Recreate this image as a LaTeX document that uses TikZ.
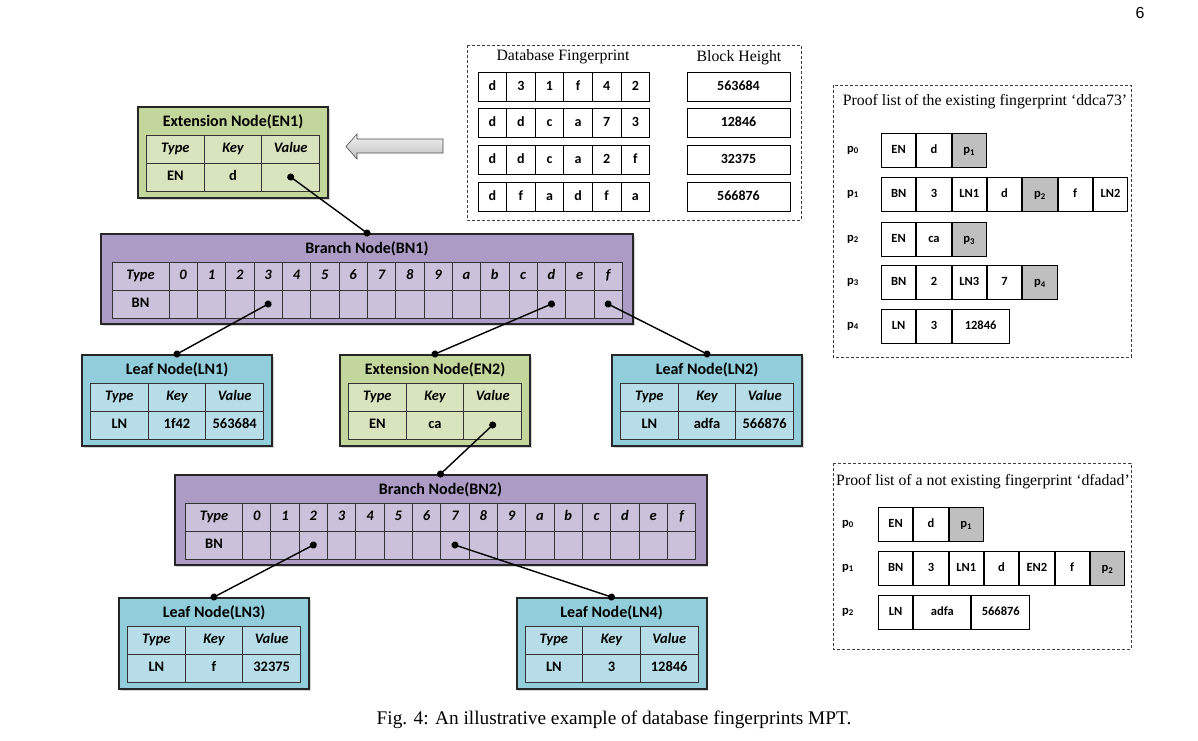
\documentclass[tikz,border=0pt]{standalone}
\usepackage{fontspec}
\setmainfont{Liberation Serif}
\newfontfamily\calibri{Carlito}
\newfontfamily\pagefont{Liberation Sans}
\usetikzlibrary{arrows.meta,shadows}

\definecolor{enout}{HTML}{C3D69B}
\definecolor{enin}{HTML}{D7E4BD}
\definecolor{lnout}{HTML}{92CDDC}
\definecolor{lnin}{HTML}{B7DEE8}
\definecolor{bnout}{HTML}{AC9BC4}
\definecolor{bnin}{HTML}{CCC1DA}
\definecolor{pgray}{HTML}{BFBFBF}

\tikzset{
  outerbox/.style={draw=black!85, line width=2pt, fill=#1,
    drop shadow={shadow xshift=1.5pt, shadow yshift=-1.5pt, opacity=0.35}},
  ttl/.style={font=\calibri\bfseries\fontsize{16}{18}\selectfont},
  hcell/.style={draw=black!80, line width=0.9pt, fill=#1, minimum height=28pt,
    inner sep=0pt, text height=10pt, text depth=3pt,
    font=\calibri\bfseries\itshape\fontsize{14.5}{16}\selectfont},
  vcell/.style={draw=black!80, line width=0.9pt, fill=#1, minimum height=28pt,
    inner sep=0pt, text height=10pt, text depth=3pt,
    font=\calibri\bfseries\fontsize{14.5}{16}\selectfont},
  link/.style={line width=1.4pt, {Circle[length=7pt]}-{Circle[length=7pt]},
    shorten <=-3.5pt, shorten >=-3.5pt},
  frame/.style={draw=black!75, densely dashed, line width=0.7pt},
  hdr/.style={font=\fontsize{15.8}{18}\selectfont},
  fcell/.style={draw, line width=1pt, minimum width=28.6pt, minimum height=29pt,
    inner sep=0pt, text height=9.5pt, text depth=2.5pt,
    font=\calibri\bfseries\fontsize{14}{16}\selectfont},
  pcell/.style={draw, line width=1pt, minimum height=34pt, inner sep=0pt,
    text height=9pt, text depth=2.5pt,
    font=\calibri\bfseries\fontsize{12.5}{14}\selectfont},
  plabel/.style={font=\calibri\bfseries\fontsize{12.5}{14}\selectfont},
}

% 名前, 中心 x, 上端 y, タイトル, 色, Type, Key, Value
\newcommand{\kvnode}[8]{%
  \node[outerbox=#5out, minimum width=190pt, minimum height=91pt, anchor=north] (#1) at (#2,#3) {};
  \node[ttl] (#1-t) at (#2,#3+16) {#4};
  \foreach \h/\v [count=\i] in {Type/#6, Key/#7, Value/#8}{
    \node[hcell=#5in, minimum width=57.67pt] (#1-h\i) at (#2+57.67*\i-115.33,#3+43) {\h};
    \node[vcell=#5in, minimum width=57.67pt] (#1-v\i) at (#2+57.67*\i-115.33,#3+71) {\v};
  }
}

% 名前, 中心 x, 上端 y, タイトル
\newcommand{\bnnode}[4]{%
  \node[outerbox=bnout, minimum width=532pt, minimum height=90pt, anchor=north] (#1) at (#2,#3) {};
  \node[ttl] (#1-t) at (#2,#3+16) {#4};
  \node[hcell=bnin, minimum width=57pt] (#1-ht) at (#2-226.5,#3+43) {Type};
  \node[vcell=bnin, minimum width=57pt] (#1-vt) at (#2-226.5,#3+71) {BN};
  \foreach \c [count=\i from 0] in {0,1,2,3,4,5,6,7,8,9,a,b,c,d,e,f}{
    \node[hcell=bnin, minimum width=28.33pt] (#1-h\i) at (#2-183.83+28.33*\i,#3+43) {\c};
    \node[vcell=bnin, minimum width=28.33pt] (#1-v\i) at (#2-183.83+28.33*\i,#3+71) {};
  }
}

% 名前, ラベル x, セル x, 上端 y, ラベル, セル
\newcommand{\prow}[6]{%
  \node[plabel] (#1-l) at (#2,#4+17) {#5};
  \foreach \t/\f/\w [count=\i] in {#6}{
    \pgfmathtruncatemacro\j{\i-1}
    \ifnum\i=1 \coordinate (#1-s) at (#3,#4+17); \else \coordinate (#1-s) at (#1-\j.east); \fi
    \node[pcell, fill=\f, minimum width=\w pt, anchor=west] (#1-\i) at (#1-s) {\t};
  }
}

\begin{document}
\begin{tikzpicture}[x=1pt,y=-1pt]
   \useasboundingbox (0,0) rectangle (1198,740);

   % ノード
   \kvnode{en1}{233}{106}{Extension Node(EN1)}{en}{EN}{d}{}
   \bnnode{bn1}{367}{233}{Branch Node(BN1)}
   \kvnode{ln1}{177}{354}{Leaf Node(LN1)}{ln}{LN}{1f42}{563684}
   \kvnode{en2}{435}{354}{Extension Node(EN2)}{en}{EN}{ca}{}
   \kvnode{ln2}{707}{354}{Leaf Node(LN2)}{ln}{LN}{adfa}{566876}
   \bnnode{bn2}{440.5}{474}{Branch Node(BN2)}
   \kvnode{ln3}{214}{597}{Leaf Node(LN3)}{ln}{LN}{f}{32375}
   \kvnode{ln4}{611.5}{597}{Leaf Node(LN4)}{ln}{LN}{3}{12846}

   % 接続線
   \draw [link] (en1-v3.center) -- (bn1.north);
   \draw [link] (bn1-v3.center) -- (ln1.north);
   \draw [link] (bn1-v13.center) -- (en2.north);
   \draw [link] (bn1-v15.center) -- (ln2.north);
   \draw [link] (en2-v3.center) -- (bn2.north);
   \draw [link] (bn2-v2.center) -- (ln3.north);
   \draw [link] (bn2-v7.center) -- (ln4.north);

   % データベース指紋
   \draw [frame] (467,45) rectangle (801,220);
   \node [hdr] (fphdr) at (563,57) {Database Fingerprint};
   \node [hdr] (bhhdr) at (739,58) {Block Height};
   \foreach \r/\h [count=\k] in {{d,3,1,f,4,2}/563684, {d,d,c,a,7,3}/12846,
                                 {d,d,c,a,2,f}/32375, {d,f,a,d,f,a}/566876}{
     \foreach \c [count=\i] in \r
       \node [fcell] (fp\k-\i) at (463.7+28.6*\i, 50+36.67*\k) {\c};
     \node [fcell, minimum width=103pt] (bh\k) at (738.5, 50+36.67*\k) {\h};
   }

   % 矢印
   \draw [draw=black!70, line width=0.6pt, top color=gray!10, bottom color=gray!50]
     (443,139) -- (357,139) -- (357,134) -- (346,146.5) -- (357,159) -- (357,153) -- (443,153) -- cycle;

   % 証明リスト (1)
   \draw [frame] (833,85) rectangle (1131,357);
   \node [hdr] (pahdr) at (985,102) {Proof list of the existing fingerprint ‘ddca73’};
   \prow{pa0}{853}{881}{133}{p\textsubscript{0}}{EN/white/34.3, d/white/34.3, p\textsubscript{1}/pgray/34.3}
   \prow{pa1}{853}{881}{177}{p\textsubscript{1}}{BN/white/34.3, 3/white/34.3, LN1/white/34.3, d/white/34.3, p\textsubscript{2}/pgray/34.3, f/white/34.3, LN2/white/34.3}
   \prow{pa2}{853}{881}{222}{p\textsubscript{2}}{EN/white/34.3, ca/white/34.3, p\textsubscript{3}/pgray/34.3}
   \prow{pa3}{853}{881}{265}{p\textsubscript{3}}{BN/white/34.3, 2/white/34.3, LN3/white/34.3, 7/white/34.3, p\textsubscript{4}/pgray/34.3}
   \prow{pa4}{853}{881}{309}{p\textsubscript{4}}{LN/white/34.3, 3/white/34.3, 12846/white/57}

   % 証明リスト (2)
   \draw [frame] (833,463) rectangle (1131,649);
   \node [hdr] (pbhdr) at (983,482) {Proof list of a not existing fingerprint ‘dfadad’};
   \prow{pb0}{848}{878}{507}{p\textsubscript{0}}{EN/white/34.3, d/white/34.3, p\textsubscript{1}/pgray/34.3}
   \prow{pb1}{848}{878}{551}{p\textsubscript{1}}{BN/white/34.3, 3/white/34.3, LN1/white/34.3, d/white/34.3, EN2/white/34.3, f/white/34.3, p\textsubscript{2}/pgray/34.3}
   \prow{pb2}{848}{878}{595}{p\textsubscript{2}}{LN/white/34.3, adfa/white/57, 566876/white/58}

   % キャプション
   \node [font=\fontsize{19.3}{22}\selectfont] (cap) at (614,720) {Fig. 4: An illustrative example of database fingerprints MPT.};
   \node [font=\pagefont\fontsize{16}{18}\selectfont] (pg) at (1140,13) {6};

\end{tikzpicture}
\end{document}
